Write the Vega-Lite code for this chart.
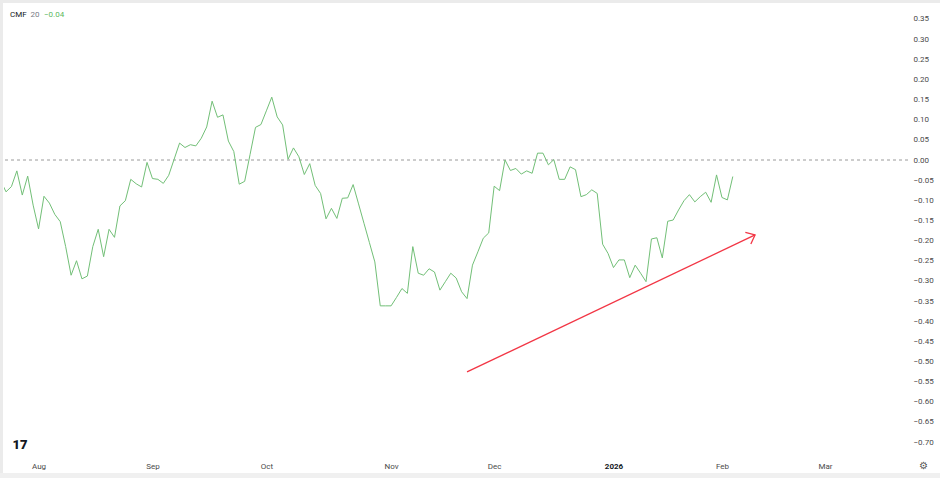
{
  "$schema": "https://vega.github.io/schema/vega-lite/v6.json",
  "width": 904,
  "height": 451,
  "autosize": {"type": "none"},
  "padding": {"left": 4, "top": 4, "right": 32, "bottom": 23},
  "background": "white",
  "config": {"view": {"stroke": null}, "font": "Roboto", "axis": {"labelOverlap": false}},
  "datasets": {
    "cmf": [
      {"i": -1, "v": -0.051}, {"i": 0, "v": -0.079}, {"i": 1, "v": -0.066}, {"i": 2, "v": -0.027}, {"i": 3, "v": -0.087},
      {"i": 4, "v": -0.040}, {"i": 5, "v": -0.112}, {"i": 6, "v": -0.171}, {"i": 7, "v": -0.090}, {"i": 8, "v": -0.107},
      {"i": 9, "v": -0.135}, {"i": 10, "v": -0.153}, {"i": 11, "v": -0.215}, {"i": 12, "v": -0.286}, {"i": 13, "v": -0.250},
      {"i": 14, "v": -0.295}, {"i": 15, "v": -0.288}, {"i": 16, "v": -0.215}, {"i": 17, "v": -0.172}, {"i": 18, "v": -0.240},
      {"i": 19, "v": -0.172}, {"i": 20, "v": -0.192}, {"i": 21, "v": -0.114}, {"i": 22, "v": -0.101}, {"i": 23, "v": -0.048},
      {"i": 24, "v": -0.059}, {"i": 25, "v": -0.067}, {"i": 26, "v": -0.006}, {"i": 27, "v": -0.046}, {"i": 28, "v": -0.048},
      {"i": 29, "v": -0.058}, {"i": 30, "v": -0.038}, {"i": 31, "v": 0.002}, {"i": 32, "v": 0.042}, {"i": 33, "v": 0.031},
      {"i": 34, "v": 0.038}, {"i": 35, "v": 0.035}, {"i": 36, "v": 0.054}, {"i": 37, "v": 0.082}, {"i": 38, "v": 0.146},
      {"i": 39, "v": 0.106}, {"i": 40, "v": 0.112}, {"i": 41, "v": 0.047}, {"i": 42, "v": 0.021}, {"i": 43, "v": -0.060},
      {"i": 44, "v": -0.053}, {"i": 45, "v": 0.014}, {"i": 46, "v": 0.081}, {"i": 47, "v": 0.088}, {"i": 48, "v": 0.122},
      {"i": 49, "v": 0.156}, {"i": 50, "v": 0.107}, {"i": 51, "v": 0.087}, {"i": 52, "v": 0.002}, {"i": 53, "v": 0.030},
      {"i": 54, "v": 0.008}, {"i": 55, "v": -0.036}, {"i": 56, "v": -0.009}, {"i": 57, "v": -0.063}, {"i": 58, "v": -0.083},
      {"i": 59, "v": -0.146}, {"i": 60, "v": -0.120}, {"i": 61, "v": -0.145}, {"i": 62, "v": -0.095}, {"i": 63, "v": -0.094},
      {"i": 64, "v": -0.061}, {"i": 65, "v": -0.109}, {"i": 66, "v": -0.157}, {"i": 67, "v": -0.205}, {"i": 68, "v": -0.253},
      {"i": 69, "v": -0.362}, {"i": 70, "v": -0.362}, {"i": 71, "v": -0.362}, {"i": 72, "v": -0.341}, {"i": 73, "v": -0.319},
      {"i": 74, "v": -0.331}, {"i": 75, "v": -0.215}, {"i": 76, "v": -0.281}, {"i": 77, "v": -0.286}, {"i": 78, "v": -0.270},
      {"i": 79, "v": -0.278}, {"i": 80, "v": -0.323}, {"i": 81, "v": -0.302}, {"i": 82, "v": -0.281}, {"i": 83, "v": -0.293},
      {"i": 84, "v": -0.327}, {"i": 85, "v": -0.344}, {"i": 86, "v": -0.261}, {"i": 87, "v": -0.228}, {"i": 88, "v": -0.194},
      {"i": 89, "v": -0.181}, {"i": 90, "v": -0.065}, {"i": 91, "v": -0.076}, {"i": 92, "v": 0.000}, {"i": 93, "v": -0.026},
      {"i": 94, "v": -0.021}, {"i": 95, "v": -0.035}, {"i": 96, "v": -0.027}, {"i": 97, "v": -0.033}, {"i": 98, "v": 0.017},
      {"i": 99, "v": 0.017}, {"i": 100, "v": -0.012}, {"i": 101, "v": 0.001}, {"i": 102, "v": -0.048}, {"i": 103, "v": -0.048},
      {"i": 104, "v": -0.017}, {"i": 105, "v": -0.024}, {"i": 106, "v": -0.091}, {"i": 107, "v": -0.086}, {"i": 108, "v": -0.074},
      {"i": 109, "v": -0.083}, {"i": 110, "v": -0.209}, {"i": 111, "v": -0.232}, {"i": 112, "v": -0.267}, {"i": 113, "v": -0.248},
      {"i": 114, "v": -0.248}, {"i": 115, "v": -0.292}, {"i": 116, "v": -0.261}, {"i": 117, "v": -0.281}, {"i": 118, "v": -0.302},
      {"i": 119, "v": -0.196}, {"i": 120, "v": -0.193}, {"i": 121, "v": -0.243}, {"i": 122, "v": -0.152}, {"i": 123, "v": -0.149},
      {"i": 124, "v": -0.124}, {"i": 125, "v": -0.101}, {"i": 126, "v": -0.086}, {"i": 127, "v": -0.104}, {"i": 128, "v": -0.091},
      {"i": 129, "v": -0.080}, {"i": 130, "v": -0.105}, {"i": 131, "v": -0.037}, {"i": 132, "v": -0.093}, {"i": 133, "v": -0.099},
      {"i": 134, "v": -0.041}
    ],
    "arrow": [{"x": 85, "y": -0.526, "x2": 138.1, "y2": -0.186}]
  },
  "layer": [
    {
      "data": {"values": [{}]},
      "mark": {"type": "rule", "color": "#9a9a9a", "strokeDash": [3, 3], "strokeWidth": 1},
      "encoding": {"y": {"datum": 0}}
    },
    {
      "data": {"name": "cmf"},
      "mark": {"type": "line", "color": "#72bf77", "strokeWidth": 1, "clip": true},
      "encoding": {
        "x": {
          "field": "i", "type": "quantitative",
          "scale": {"domain": [-0.37, 166.3], "nice": false, "zero": false},
          "axis": {
            "values": [6, 27, 48, 71, 90, 112, 132, 151],
            "tickCount": 50,
            "labelExpr": "datum.value == 6 ? 'Aug' : datum.value == 27 ? 'Sep' : datum.value == 48 ? 'Oct' : datum.value == 71 ? 'Nov' : datum.value == 90 ? 'Dec' : datum.value == 112 ? '2026' : datum.value == 132 ? 'Feb' : 'Mar'",
            "title": null, "domain": false, "ticks": false, "grid": false,
            "labelFontSize": 8, "labelPadding": 7, "labelFlush": false, "labelOverlap": false,
            "labelColor": {"expr": "datum.value == 112 ? '#131722' : '#4a4a4a'"},
            "labelFontWeight": {"expr": "datum.value == 112 ? 'bold' : 'normal'"}
          }
        },
        "y": {
          "field": "v", "type": "quantitative",
          "scale": {"domain": [-0.7322, 0.3872], "nice": false, "zero": false},
          "axis": {
            "orient": "right",
            "values": [0.35, 0.3, 0.25, 0.2, 0.15, 0.1, 0.05, 0, -0.05, -0.1, -0.15, -0.2, -0.25, -0.3, -0.35, -0.4, -0.45, -0.5, -0.55, -0.6, -0.65, -0.7],
            "tickCount": 50,
            "format": ".2f", "title": null, "domain": false, "ticks": false, "grid": false,
            "labelFontSize": 8, "labelPadding": 5, "labelAlign": "left", "labelColor": "#4a4a4a",
            "labelOverlap": false, "labelFlush": false
          }
        }
      }
    },
    {
      "data": {"name": "arrow"},
      "mark": {"type": "rule", "color": "#f23645", "strokeWidth": 1.3},
      "encoding": {
        "x": {"field": "x", "type": "quantitative"},
        "y": {"field": "y", "type": "quantitative"},
        "x2": {"field": "x2"},
        "y2": {"field": "y2"}
      }
    },
    {
      "data": {"name": "arrow"},
      "mark": {"type": "point", "shape": "M-0.77,-0.64L0,0L-0.77,0.64", "filled": false, "color": "#f23645", "strokeWidth": 1.3, "size": 400, "angle": -25.4, "opacity": 1},
      "encoding": {
        "x": {"field": "x2", "type": "quantitative"},
        "y": {"field": "y2", "type": "quantitative"}
      }
    },
    {
      "data": {"values": [{}]},
      "mark": {"type": "text", "text": "CMF", "align": "left", "baseline": "middle", "fontSize": 8, "color": "#131722"},
      "encoding": {"x": {"datum": 0.74}, "y": {"datum": 0.36}}
    },
    {
      "data": {"values": [{}]},
      "mark": {"type": "text", "text": "20", "align": "left", "baseline": "middle", "fontSize": 8, "color": "#787b86"},
      "encoding": {"x": {"datum": 4.5}, "y": {"datum": 0.36}}
    },
    {
      "data": {"values": [{}]},
      "mark": {"type": "text", "text": "−0.04", "align": "left", "baseline": "middle", "fontSize": 8, "color": "#5cb860"},
      "encoding": {"x": {"datum": 7.0}, "y": {"datum": 0.36}}
    },
    {
      "data": {"values": [{}]},
      "mark": {"type": "text", "text": "17", "align": "center", "baseline": "middle", "fontSize": 13, "fontWeight": 900, "color": "#131722"},
      "encoding": {"x": {"datum": 2.58}, "y": {"datum": -0.7074}}
    },
    {
      "data": {"values": [{}]},
      "mark": {"type": "text", "text": "⚙", "align": "center", "baseline": "middle", "fontSize": 10, "color": "#555555", "clip": false},
      "encoding": {"x": {"datum": 169.2}, "y": {"datum": -0.7595}}
    },
    {
      "data": {"values": [{}]},
      "mark": {"type": "rule", "color": "#ebebeb", "strokeWidth": 3, "clip": false},
      "encoding": {"x": {"datum": -1.11}, "x2": {"datum": 172.2}, "y": {"datum": 0.3934}}
    },
    {
      "data": {"values": [{}]},
      "mark": {"type": "rule", "color": "#ebebeb", "strokeWidth": 3, "clip": false},
      "encoding": {"x": {"datum": -0.83}, "y": {"datum": 0.3971}, "y2": {"datum": -0.7893}}
    },
    {
      "data": {"values": [{}]},
      "mark": {"type": "rule", "color": "#f0f0f0", "strokeWidth": 6, "clip": false},
      "encoding": {"x": {"datum": -1.11}, "x2": {"datum": 172.2}, "y": {"datum": -0.7843}}
    }
  ]
}
